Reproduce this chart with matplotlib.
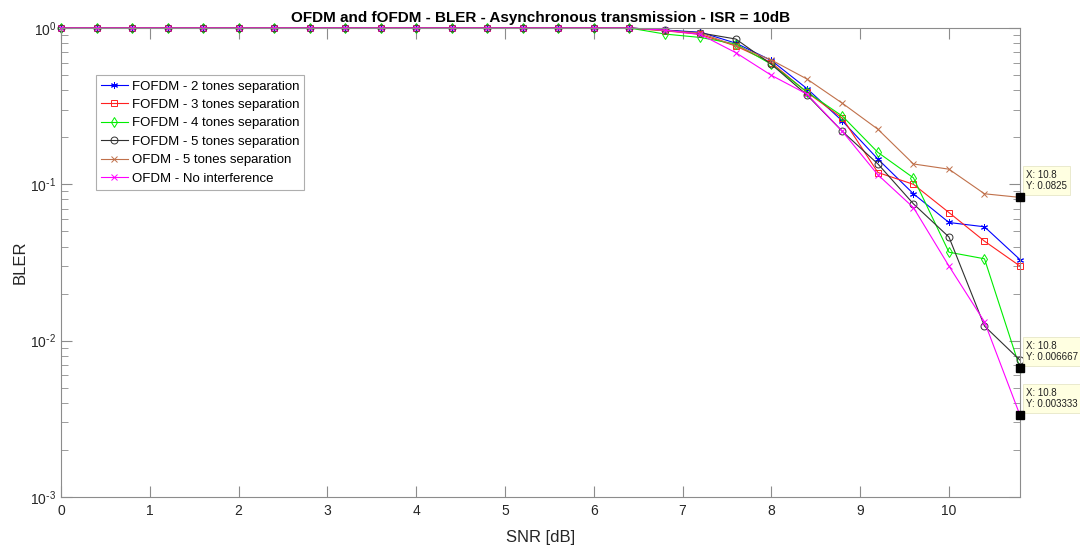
import matplotlib
matplotlib.use("Agg")
import numpy as np
import matplotlib.pyplot as plt
from matplotlib.ticker import LogLocator, FixedLocator, NullFormatter, FuncFormatter

plt.rcParams['font.family'] = ['Liberation Sans', 'DejaVu Sans']
plt.rcParams['mathtext.default'] = 'regular'
plt.rcParams['axes.unicode_minus'] = False

# SNR grid [dB]
snr = [round(0.4 * i, 1) for i in range(28)]

flat = [1.0] * 17
bler_fofdm_2 = flat + [0.97, 0.94, 0.80, 0.62, 0.41, 0.254, 0.145, 0.087, 0.057, 0.0535, 0.033]
bler_fofdm_3 = flat + [0.96, 0.91, 0.767, 0.60, 0.388, 0.265, 0.119, 0.100, 0.066, 0.0433, 0.030]
bler_fofdm_4 = flat + [0.915, 0.87, 0.79, 0.586, 0.39, 0.273, 0.160, 0.110, 0.0368, 0.0334, 0.006667]
bler_fofdm_5 = flat + [0.97, 0.93, 0.85, 0.586, 0.373, 0.218, 0.135, 0.075, 0.046, 0.0124, 0.0075]
bler_ofdm_5 = flat + [0.96, 0.93, 0.77, 0.624, 0.472, 0.330, 0.225, 0.135, 0.125, 0.087, 0.0825]
bler_ofdm_ref = flat + [0.97, 0.91, 0.695, 0.498, 0.378, 0.218, 0.115, 0.071, 0.030, 0.0132, 0.003333]

labels = ['FOFDM - 2 tones separation', 'FOFDM - 3 tones separation',
          'FOFDM - 4 tones separation', 'FOFDM - 5 tones separation',
          'OFDM - 5 tones separation', 'OFDM - No interference']
series = [bler_fofdm_2, bler_fofdm_3, bler_fofdm_4, bler_fofdm_5, bler_ofdm_5, bler_ofdm_ref]
colors = ['#0000ff', '#ff2020', '#00ee00', '#303030', '#c0704a', '#ff00ff']
markers = [(6, 2, 0), 's', 'd', 'o', 'x', 'x']

# data tips at SNR = 10.8 dB
tip_x = [10.8, 10.8, 10.8]
tip_y = [0.0825, 0.006667, 0.003333]
tip_text = ['X: 10.8\nY: 0.0825', 'X: 10.8\nY: 0.006667', 'X: 10.8\nY: 0.003333']


def decade_label(v, pos):
    e = int(round(np.log10(v)))
    if e < 0:
        return r'$10^{\text{-}%d}$' % (-e)
    return r'$10^{%d}$' % e


fig = plt.figure(figsize=(10.8, 5.49), dpi=100)
ax = fig.add_axes([61 / 1080, 1 - 497 / 549, 959 / 1080, 469 / 549])

for y, lab, c, m in zip(series, labels, colors, markers):
    ax.semilogy(snr, y, color=c, marker=m, markersize=5, markerfacecolor='none',
                markeredgecolor=c, markeredgewidth=0.7, linewidth=0.8, label=lab,
                clip_on=False)

ax.set_xlim(0, 10.8)
ax.set_ylim(1e-3, 1)
ax.xaxis.set_major_locator(FixedLocator(range(0, 11)))
ax.yaxis.set_major_locator(LogLocator(base=10, numticks=10))
ax.yaxis.set_major_formatter(FuncFormatter(decade_label))
ax.yaxis.set_minor_locator(LogLocator(base=10, subs=range(2, 10), numticks=20))
ax.yaxis.set_minor_formatter(NullFormatter())

axis_gray = '#8c8c8c'
for s in ax.spines.values():
    s.set_color(axis_gray)
    s.set_linewidth(0.8)
ax.tick_params(which='both', direction='in', top=True, right=True,
               color=axis_gray, labelcolor='#262626', labelsize=10)
ax.tick_params(which='major', length=8, width=0.8)
ax.tick_params(which='minor', length=5, width=0.6)
ax.tick_params(axis='x', pad=5)

ax.set_xlabel('SNR [dB]', fontsize=12, color='#262626', labelpad=9)
ax.set_ylabel('BLER', fontsize=12, color='#262626', labelpad=2)
ax.set_title('OFDM and fOFDM - BLER - Asynchronous transmission - ISR = 10dB',
             fontsize=11, fontweight='bold', pad=4)

leg = ax.legend(loc='upper left', bbox_to_anchor=(35 / 959, (497 - 75) / 469),
                borderaxespad=0, fontsize=9.5, frameon=True, fancybox=False,
                handlelength=2.0, handletextpad=0.3, labelspacing=0.47,
                borderpad=0.4)
leg.get_frame().set_edgecolor('#9a9a9a')
leg.get_frame().set_linewidth(0.8)

for tx, ty, tt in zip(tip_x, tip_y, tip_text):
    ax.plot([tx], [ty], marker='s', color='black', markersize=6, clip_on=False, zorder=5)
    ax.annotate(tt, xy=(tx, ty), xytext=(6, 6), textcoords='offset pixels',
                ha='left', va='bottom', fontsize=7, color='#202020',
                annotation_clip=False,
                bbox=dict(boxstyle='square,pad=0.35', facecolor='#ffffe1',
                          edgecolor='#e6e6c8', linewidth=0.6))

fig.savefig('out.png', dpi=100)
